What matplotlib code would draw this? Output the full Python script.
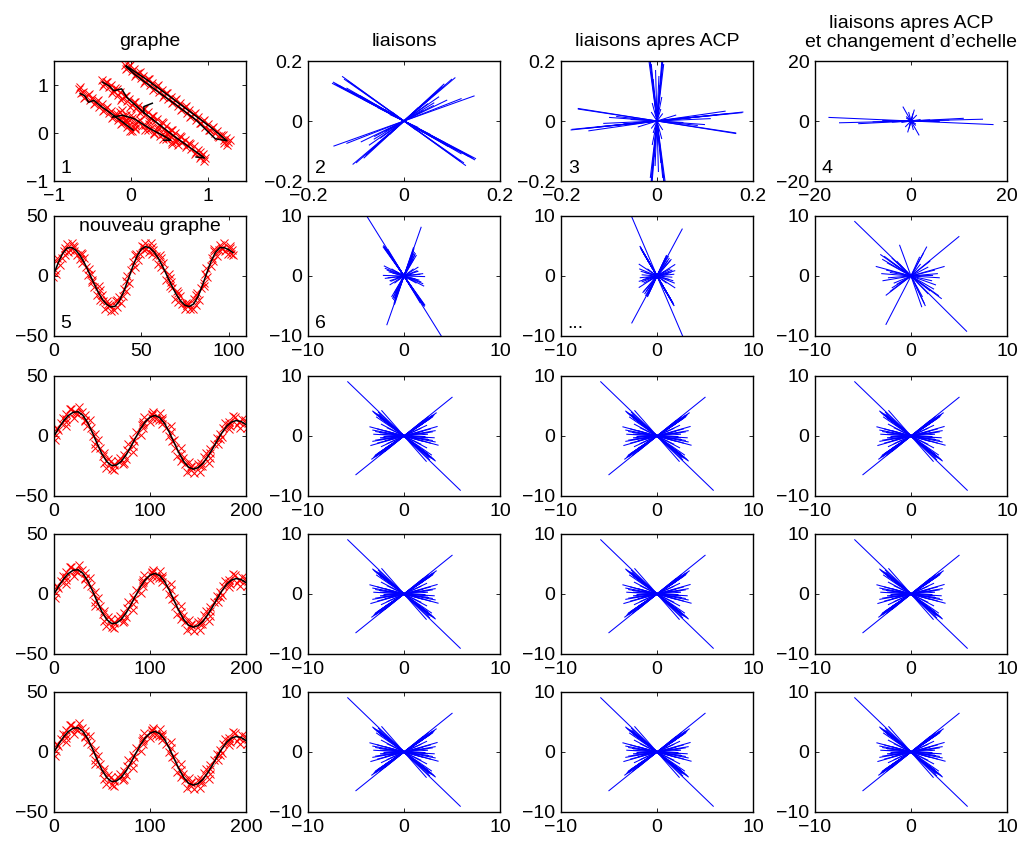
import matplotlib
matplotlib.use('Agg')
import matplotlib.pyplot as plt
import numpy as np
from matplotlib.collections import LineCollection

plt.rcParams['font.family'] = ['Liberation Sans', 'DejaVu Sans']
FS = 14
plt.rcParams['font.size'] = FS

# ---------------- text ----------------
col_titles = ['graphe', 'liaisons', 'liaisons apres ACP',
              'liaisons apres ACP\net changement d\u2019echelle']
panel_tags = {(0, 0): '1', (0, 1): '2', (0, 2): '3', (0, 3): '4',
              (1, 0): '5', (1, 1): '6', (1, 2): '...'}
inner_title = 'nouveau graphe'

# ---------------- panel 1 : graph ----------------
p1_band_a = [(-0.08, 1.42), (-0.05, 1.36), (-0.02, 1.40), (0.01, 1.30), (0.04, 1.33), (0.07, 1.22),
             (0.10, 1.26), (0.13, 1.14), (0.16, 1.19), (0.19, 1.08), (0.22, 1.12), (0.25, 1.00),
             (0.28, 1.05), (0.31, 0.93), (0.34, 0.98), (0.37, 0.86), (0.40, 0.90), (0.43, 0.79),
             (0.46, 0.83), (0.49, 0.71), (0.52, 0.76), (0.55, 0.64), (0.58, 0.69), (0.61, 0.57),
             (0.64, 0.62), (0.67, 0.49), (0.70, 0.55), (0.73, 0.42), (0.76, 0.47), (0.79, 0.35),
             (0.82, 0.40), (0.85, 0.27), (0.88, 0.33), (0.91, 0.20), (0.94, 0.26), (0.97, 0.13),
             (1.00, 0.18), (1.03, 0.06), (1.06, 0.11), (1.09, -0.01), (1.12, 0.04), (1.15, -0.08),
             (1.18, -0.04), (1.21, -0.15), (1.24, -0.10), (1.27, -0.19), (1.22, -0.20), (1.29, -0.14),
             (-0.065, 1.33), (-0.005, 1.41), (0.055, 1.19), (0.115, 1.27), (0.175, 1.04), (0.235, 1.13),
             (0.295, 0.90), (0.355, 0.99), (0.415, 0.76), (0.475, 0.84), (0.535, 0.62), (0.595, 0.70),
             (0.655, 0.48), (0.715, 0.56), (0.775, 0.34), (0.835, 0.41), (0.895, 0.20), (0.955, 0.27),
             (1.015, 0.06), (1.075, 0.13), (1.135, -0.07), (1.195, -0.04), (1.255, -0.24)]
p1_band_b = [(-0.38, 1.10), (-0.35, 1.02), (-0.32, 1.06), (-0.29, 0.95), (-0.26, 1.00), (-0.23, 0.88),
             (-0.20, 0.93), (-0.17, 0.80), (-0.14, 0.85), (-0.11, 0.73), (-0.08, 0.78), (-0.05, 0.66),
             (-0.02, 0.71), (0.01, 0.59), (0.04, 0.64), (0.07, 0.52), (0.10, 0.57), (0.13, 0.45),
             (0.16, 0.50), (0.19, 0.38), (0.22, 0.43), (0.25, 0.31), (0.28, 0.36), (0.31, 0.24),
             (0.34, 0.29), (0.37, 0.17), (0.40, 0.22), (0.43, 0.09), (0.46, 0.14), (0.49, 0.02),
             (0.52, 0.07), (0.55, -0.05), (0.58, 0.00), (0.61, -0.12), (0.64, -0.07), (0.67, -0.19),
             (0.70, -0.14), (0.73, -0.26), (0.76, -0.21), (0.79, -0.33), (0.82, -0.28), (0.85, -0.40),
             (0.88, -0.35), (0.91, -0.47), (0.94, -0.43), (0.97, -0.52), (0.90, -0.53),
             (-0.365, 0.98), (-0.305, 1.07), (-0.245, 0.84), (-0.185, 0.92), (-0.125, 0.69),
             (-0.065, 0.78), (-0.005, 0.55), (0.055, 0.64), (0.115, 0.41), (0.175, 0.50),
             (0.235, 0.26), (0.295, 0.35), (0.355, 0.12), (0.415, 0.20), (0.475, -0.02),
             (0.535, 0.06), (0.595, -0.17), (0.655, -0.09), (0.715, -0.30), (0.775, -0.23),
             (0.835, -0.44), (0.895, -0.39), (0.955, -0.58)]
p1_band_c = [(-0.68, 0.92), (-0.65, 0.83), (-0.62, 0.86), (-0.59, 0.75), (-0.56, 0.80), (-0.53, 0.69),
             (-0.50, 0.73), (-0.47, 0.62), (-0.44, 0.67), (-0.41, 0.55), (-0.38, 0.60), (-0.35, 0.48),
             (-0.32, 0.53), (-0.29, 0.41), (-0.26, 0.46), (-0.23, 0.34), (-0.20, 0.39), (-0.17, 0.27),
             (-0.14, 0.32), (-0.11, 0.20), (-0.08, 0.25), (-0.05, 0.13), (-0.02, 0.17), (0.02, 0.05),
             (0.05, 0.08),
             (-0.665, 0.95), (-0.605, 0.73), (-0.545, 0.82), (-0.485, 0.60), (-0.425, 0.68),
             (-0.365, 0.46), (-0.305, 0.54), (-0.245, 0.32), (-0.185, 0.40), (-0.125, 0.18),
             (-0.065, 0.26), (-0.005, 0.04), (0.055, 0.10)]
p1_band_d = [(-0.14, 0.44), (-0.10, 0.36), (-0.06, 0.38), (-0.02, 0.28), (0.02, 0.31), (0.06, 0.21),
             (0.10, 0.24), (0.14, 0.14), (0.18, 0.17), (0.22, 0.07), (0.26, 0.10), (0.30, 0.00),
             (0.34, 0.04), (0.38, -0.06), (0.42, -0.03), (0.46, -0.13), (0.50, -0.10), (0.54, -0.19),
             (0.58, -0.16), (0.62, -0.24),
             (-0.12, 0.47), (-0.06, 0.27), (0.00, 0.37), (0.06, 0.17), (0.12, 0.27), (0.18, 0.07),
             (0.24, 0.18), (0.30, -0.02), (0.36, 0.08), (0.42, -0.12), (0.48, -0.02), (0.54, -0.22),
             (0.60, -0.14)]
nan = float('nan')
p1_path_x = [-0.06, 0.20, 0.50, 0.80, 1.05, 1.25, 1.10, 0.85, 0.55, 0.25, 0.05, -0.06, nan,
             -0.37, -0.28, -0.22, -0.12, -0.05, 0.15, 0.35, 0.55, 0.75, 0.90, 0.96, 0.85, nan,
             0.17, 0.17, 0.28, nan,
             -0.66, -0.60, -0.55, -0.48, -0.40, -0.25, -0.10, 0.03, nan,
             -0.24, -0.11, 0.04, 0.25, 0.45, 0.52, 0.43]
p1_path_y = [1.40, 1.12, 0.77, 0.41, 0.11, -0.16, -0.12, 0.27, 0.63, 0.98, 1.22, 1.38, nan,
             1.06, 0.98, 0.88, 0.92, 0.74, 0.45, 0.20, -0.05, -0.28, -0.45, -0.52, -0.50, nan,
             0.42, 0.55, 0.62, nan,
             0.82, 0.78, 0.64, 0.68, 0.57, 0.40, 0.22, 0.06, nan,
             0.33, 0.37, 0.30, 0.09, -0.08, -0.15, -0.15]

# ---------------- row 2 : first wave ----------------
wave1_x = [0, 2.5, 5, 7.5, 10, 12.5, 15, 17.5, 20, 22.5, 25, 27.5, 30, 32.5, 35, 37.5, 40, 42.5,
           45, 47.5, 50, 52.5, 55, 57.5, 60, 62.5, 65, 67.5, 70, 72.5, 75, 77.5, 80, 82.5, 85,
           87.5, 90, 92.5, 95, 97.5, 100, 102.5]
wave1_y = [2, 11.3, 18.9, 23.3, 23.8, 21.5, 17.0, 10.6, 3.0, -5.0, -12.6, -19.0, -23.5, -25.8,
           -25.2, -20.7, -12.8, -2.8, 7.4, 16.3, 22.4, 24.5, 23.3, 19.7, 14.2, 7.2, -0.5, -8.2,
           -15.2, -20.7, -24.3, -25.5, -23.3, -17.1, -8.0, 2.4, 12.2, 19.7, 23.6, 23.6, 22.0, 19.5]
wave1_dx_a = [0.5, -0.6, 0.8, -0.3, 0.2, -0.8, 0.6, -0.5, 0.3, -0.7, 0.7, -0.2, 0.4, -0.6, 0.8,
              -0.4, 0.2, -0.8, 0.5, -0.3, 0.7, -0.5, 0.3, -0.7, 0.6, -0.2, 0.8, -0.6, 0.4, -0.3,
              0.5, -0.8, 0.2, -0.5, 0.7, -0.4, 0.6, -0.7, 0.3, -0.2, 0.8, -0.5]
wave1_dy_a = [3, 4, 2, 3, 4, 3, 2, 4, 3, 2, 4, 3, 3, 2, 4, 3, 2, 3, 4, 2, 3, 3, 4, 2, 3, 4, 2, 3,
              3, 4, 2, 3, 4, 3, 2, 4, 3, 3, 2, 4, 3, 2]
wave1_dx_b = [-0.5, 0.7, -0.2, 0.6, -0.8, 0.4, -0.3, 0.8, -0.6, 0.2, -0.4, 0.7, -0.7, 0.3, -0.5,
              0.8, -0.2, 0.6, -0.6, 0.4, -0.8, 0.2, -0.4, 0.7, -0.3, 0.5, -0.7, 0.3, -0.5, 0.8,
              -0.2, 0.6, -0.6, 0.4, -0.8, 0.2, -0.3, 0.7, -0.5, 0.6, -0.4, 0.3]
wave1_dy_b = [-3, -2, -4, -3, -2, -4, -3, -3, -2, -4, -3, -2, -4, -3, -3, -2, -4, -3, -2, -3, -4,
              -2, -3, -3, -4, -2, -3, -2, -4, -3, -3, -2, -4, -3, -2, -3, -4, -3, -2, -3, -4, -2]
wave1_dx_c = [1.2, -1.1, 1.3, -1.2, 1.1, -1.3, 1.0, -1.2, 1.3, -1.0, 1.1, -1.3, 1.2, -1.1, 1.3,
              -1.2, 1.0, -1.3, 1.2, -1.1, 1.3, -1.0, 1.1, -1.3, 1.2, -1.1, 1.3, -1.2, 1.0, -1.3,
              1.2, -1.1, 1.3, -1.2, 1.1, -1.0, 1.2, -1.1, 1.3, -1.2, 1.1, -1.3]
wave1_dy_c = [0, 1, -1, 0, 1, -1, 1, 0, -1, 0, 1, -1, 0, 1, -1, 1, 0, -1, 0, 1, -1, 0, 1, -1,
              1, 0, -1, 0, 1, -1, 0, 1, -1, 1, 0, -1, 0, 1, -1, 0, 1, -1]

# ---------------- rows 3-5 : second wave ----------------
wave2_x = [0, 5, 10, 15, 20, 25, 30, 35, 40, 45, 50, 55, 60, 65, 70, 75, 80, 85, 90, 95, 100,
           105, 110, 115, 120, 125, 130, 135, 140, 145, 150, 155, 160, 165, 170, 175, 180, 185,
           190, 195, 200]
wave2_y = [0, 6.7, 12.6, 17.1, 19.8, 20.2, 17.3, 11.2, 2.8, -6.4, -15.0, -21.4, -24.6, -24.2,
           -21.2, -15.9, -9.0, -1.4, 5.8, 11.8, 15.7, 17.1, 15.4, 10.6, 3.3, -5.3, -13.8, -21.1,
           -25.9, -27.6, -26.4, -22.9, -17.5, -10.9, -3.8, 2.8, 8.2, 11.7, 12.9, 12.0, 9.5]
wave2_dx_a = [-1.5, 2.0, -0.5, 1.5, -2.0, 1.0, -1.0, 2.5, -1.5, 0.5, -2.0, 1.5, -0.5, 2.0, -1.5,
              1.0, -2.5, 0.5, 1.5, -1.0, 2.0, -1.5, 0.5, -2.0, 1.5, -0.5, 2.5, -1.0, 1.0, -2.0,
              0.5, 1.5, -1.5, 2.0, -0.5, 1.0, -2.0, 1.5, -1.0, 0.5, -1.5]
wave2_dy_a = [3, 4, 2, 5, 3, 4, 3, 2, 4, 3, 5, 2, 4, 3, 3, 4, 2, 5, 3, 4, 2, 3, 4, 3, 5, 2, 4, 3,
              4, 2, 3, 5, 3, 4, 2, 4, 3, 5, 3, 2, 4]
wave2_dx_b = [1.5, -1.0, 2.0, -2.0, 0.5, -1.5, 2.0, -0.5, 1.0, -2.5, 1.5, -1.0, 0.5, -2.0, 1.5,
              -0.5, 2.0, -1.5, 1.0, -2.0, 0.5, 1.5, -1.0, 2.0, -0.5, 1.5, -2.0, 1.0, -1.5, 0.5,
              2.0, -1.0, 1.5, -2.5, 1.0, -0.5, 2.0, -1.5, 0.5, -1.0, 1.0]
wave2_dy_b = [-3, -2, -4, -3, -5, -2, -4, -3, -3, -4, -2, -5, -3, -4, -2, -3, -4, -3, -5, -2, -4,
              -3, -2, -4, -3, -5, -3, -2, -4, -3, -4, -2, -5, -3, -3, -4, -2, -3, -4, -5, -3]
wave2_dx_c = [2.5, -2.3, 2.6, -2.4, 2.2, -2.6, 2.4, -2.2, 2.5, -2.5, 2.3, -2.4, 2.6, -2.3, 2.4,
              -2.6, 2.2, -2.5, 2.5, -2.2, 2.4, -2.4, 2.6, -2.3, 2.3, -2.5, 2.5, -2.6, 2.2, -2.4,
              2.4, -2.3, 2.6, -2.2, 2.5, -2.5, 2.3, -2.4, 2.2, -2.6, 2.4]
wave2_dy_c = [1, 0, -1, 1, 0, -1, 0, 1, -1, 0, 1, -1, 1, 0, -1, 0, 1, -1, 1, 0, -1, 1, 0, -1, 0,
              1, -1, 0, 1, -1, 1, 0, -1, 0, 1, -1, 1, 0, -1, 0, 1]

# ---------------- link vectors (drawn from the origin) ----------------
# symmetric panels: each vector d is drawn together with -d
p2_links = [(-0.150, 0.126), (-0.148, 0.130), (-0.129, 0.149), (-0.120, 0.110), (-0.100, 0.090),
            (-0.085, 0.072), (-0.070, 0.062), (-0.055, 0.045), (-0.040, 0.038), (-0.025, 0.030),
            (-0.110, 0.098), (-0.092, 0.085), (-0.060, 0.055), (-0.030, 0.022),
            (-0.145, 0.125), (-0.140, 0.120), (-0.135, 0.118), (-0.125, 0.140), (-0.118, 0.135),
            (-0.095, 0.083), (-0.075, 0.066),
            (0.107, 0.145), (0.147, 0.084), (0.084, 0.124), (0.080, 0.115), (0.073, 0.081),
            (0.062, 0.052), (0.063, 0.061), (0.050, 0.058), (0.040, 0.035), (0.030, 0.045),
            (0.090, 0.070), (0.020, 0.030), (0.120, 0.075), (0.075, 0.105), (0.100, 0.140),
            (0.055, 0.075), (0.035, 0.050)]
p3_links = [(-0.018, 0.215), (0.013, 0.215), (0.165, -0.042), (0.180, 0.030), (0.143, 0.033),
            (0.112, 0.008), (0.090, 0.015), (0.070, 0.010), (0.055, -0.005), (0.040, 0.020),
            (0.125, 0.020), (0.100, -0.012), (0.006, 0.12), (-0.006, 0.10), (0.010, 0.08),
            (-0.010, 0.06), (0.004, 0.15), (-0.003, 0.17), (0.008, 0.04), (0.012, 0.025),
            (-0.012, 0.03), (-0.008, 0.14), (0.011, 0.18),
            (-0.016, 0.215), (0.012, 0.215), (-0.014, 0.20), (0.010, 0.20), (-0.012, 0.19),
            (0.014, 0.19), (0.165, -0.040), (0.178, 0.028), (0.150, 0.025), (0.085, -0.015),
            (0.060, 0.012)]
p4_links = [(17.2, -1.2), (15.0, 0.6), (11.0, 0.9), (8.0, 0.3), (6.0, -0.2), (4.0, 0.4),
            (-1.7, 4.8), (0.7, 3.8), (0.4, 2.5), (-0.5, 3.0), (1.2, 2.0), (1.0, -1.5), (0.3, 1.5),
            (2.0, 0.5), (-1.0, 1.0)]
p6_links = [(4.0, -10.3), (2.1, -5.0), (2.0, -4.8), (1.9, -4.6), (1.8, -4.3), (1.6, -3.9),
            (1.4, -3.4), (1.2, -3.0), (1.0, -2.5), (0.8, -2.0), (2.2, -4.9), (1.7, -4.5),
            (0.6, -1.5), (2.15, -5.1), (2.05, -4.7), (1.95, -4.5), (1.85, -4.4), (1.5, -3.6),
            (1.3, -3.2), (1.1, -2.7), (0.9, -2.2),
            (1.8, 8.2), (1.0, 4.8), (1.1, 4.0), (0.9, 3.5), (0.8, 3.0), (0.7, 2.5),
            (1.2, 3.8), (0.5, 2.0), (0.6, 1.8), (1.0, 2.8), (1.05, 4.6), (1.0, 4.2), (0.95, 3.8),
            (0.85, 3.2), (0.75, 2.8), (1.15, 3.6), (1.3, 3.5),
            (2.1, -1.7), (1.5, 0.8), (2.0, 0.4), (1.2, -0.5), (1.8, -1.0), (1.0, 1.2), (1.5, 1.5),
            (0.8, 0.3), (1.3, -1.2), (0.9, -0.8), (2.0, -1.3), (1.7, 0.3), (1.6, -0.7),
            (1.4, 0.9), (2.2, -0.1)]
p7_links = [(2.75, -10.3), (1.75, -4.9), (1.7, -4.6), (1.6, -4.4), (1.5, -4.1), (1.4, -3.8),
            (1.2, -3.3), (1.0, -2.8), (0.8, -2.2), (0.6, -1.7), (1.8, -5.0), (1.3, -3.6),
            (1.72, -4.75), (1.65, -4.5), (1.55, -4.25), (1.45, -3.95), (1.1, -3.0), (0.9, -2.5),
            (2.65, 7.9), (1.0, 3.5), (0.9, 3.0), (1.2, 3.3), (0.8, 2.6), (0.6, 2.0), (1.1, 2.5),
            (0.5, 1.5), (1.4, 2.6), (0.95, 3.2), (1.05, 3.4), (0.85, 2.8), (1.3, 3.0), (0.7, 2.3),
            (1.5, 2.8),
            (1.9, -2.0), (1.9, 1.94), (1.5, 0.6), (1.7, -0.8), (1.2, 0.3), (1.0, -1.2), (1.4, 1.2),
            (0.8, 0.8), (1.6, -0.2), (1.8, 0.3), (1.85, -1.2), (1.3, -0.6), (1.6, 1.0), (1.9, 0.9)]
# panel 8 is not symmetric: plain rays from the origin
p8_rays = [(-5.9, 9.15), (5.83, -9.27), (5.03, 6.62), (-2.63, -8.14), (-1.2, 5.2), (1.13, -5.2),
           (-3.2, 3.6), (-3.67, 1.6), (-2.97, -0.8), (-2.63, -3.24), (-2.0, -2.0), (-1.5, 2.5),
           (-2.0, 3.0), (-1.0, 1.0), (-2.5, 2.2), (-2.2, 0.6), (-1.8, -1.2), (-3.0, 2.8),
           (-2.8, 3.3), (-2.3, 2.6), (-1.7, 1.9), (-2.6, 1.0), (-2.4, -0.3), (-2.2, -2.6),
           (-1.5, -1.4), (-1.2, 2.0), (-3.1, 0.4),
           (3.5, 1.6), (2.3, 0.1), (3.2, -3.8), (1.65, 4.9), (1.5, -5.0), (2.0, -2.5), (2.5, 1.0),
           (2.0, 2.5), (1.0, 2.0), (2.2, -0.8), (2.6, -1.5), (1.2, -3.5), (0.9, 3.2), (2.8, 0.4),
           (1.4, -4.6), (1.8, -3.0), (2.9, -3.3), (2.4, -2.2), (1.3, 3.8), (1.8, 1.5), (3.0, -0.3)]
# rows 3-5, columns 2-4 (symmetric)
late_links = [(5.9, -9.1), (5.05, 6.5), (3.2, -4.05), (3.0, -3.8), (2.8, -3.7), (2.6, -3.4),
              (2.35, -4.28), (2.2, -3.0), (2.0, -2.7), (1.8, -2.4), (1.6, -2.1), (1.4, -1.9),
              (1.2, -1.6), (1.0, -1.3), (2.9, -3.2), (2.5, -3.0), (2.7, -4.0),
              (3.1, -3.9), (2.9, -3.6), (2.4, -3.1), (2.1, -2.8), (1.9, -2.5), (1.7, -2.3),
              (3.3, -4.2), (2.6, -3.6), (0.8, -1.0),
              (3.2, 3.6), (3.0, 3.2), (2.8, 3.0), (2.5, 2.7), (2.2, 2.4), (2.0, 2.1), (1.7, 1.9),
              (1.5, 1.6), (2.6, 3.3), (2.3, 2.9), (3.4, 3.9), (3.1, 3.4), (2.9, 3.3), (2.7, 2.9),
              (2.4, 2.6), (2.1, 2.3), (1.9, 2.0), (1.3, 1.4), (3.0, 3.5), (2.0, 2.6),
              (3.5, 1.6), (3.6, -1.55), (3.0, 0.7), (3.0, -0.75), (2.5, 0.3), (2.5, -0.3),
              (2.8, 1.2), (2.8, -1.2), (2.0, 0.8), (2.0, -0.9), (2.2, 0.0), (3.2, -0.3),
              (1.8, 1.3), (1.8, -1.4), (2.4, 1.8), (2.4, -2.0), (3.3, 0.9), (3.3, -1.0),
              (2.6, 0.6), (2.6, -0.6), (1.6, 0.5), (1.6, -0.5)]

# ---------------- axis settings ----------------
M = '\u2212'
ticks_small = ([-0.2, 0, 0.2], [M + '0.2', '0', '0.2'])
ticks_20 = ([-20, 0, 20], [M + '20', '0', '20'])
ticks_10 = ([-10, 0, 10], [M + '10', '0', '10'])
ticks_50 = ([-50, 0, 50], [M + '50', '0', '50'])

# ---------------- layout (pixels) ----------------
FW, FH = 1036, 841
lefts = [54, 308, 561, 815]
tops = [61, 216, 376, 534, 692]
AW, AH = 192, 120

fig = plt.figure(figsize=(FW / 100, FH / 100), dpi=100)

RED = '#ff0000'
MS, MEW = 5.5, 0.7


def make_ax(r, c):
    ax = fig.add_axes([lefts[c] / FW, 1 - (tops[r] + AH) / FH, AW / FW, AH / FH])
    for s in ax.spines.values():
        s.set_linewidth(1.0)
    ax.tick_params(direction='in', top=True, right=True, length=3, width=0.6,
                   labelsize=FS, pad=5)
    ax.tick_params(axis='y', pad=4)
    return ax


def set_ticks(ax, xt, yt, xlim, ylim):
    ax.set_xlim(xlim)
    ax.set_ylim(ylim)
    ax.set_xticks(xt[0])
    ax.set_xticklabels(xt[1])
    ax.set_yticks(yt[0])
    ax.set_yticklabels(yt[1])


def draw_links(ax, vecs, symmetric=True, lw=0.75):
    v = np.array(vecs, dtype=float)
    if symmetric:
        v = np.vstack([v, -v])
    segs = [[(0.0, 0.0), (a, b)] for a, b in v]
    ax.add_collection(LineCollection(segs, colors='#0000ff', linewidths=lw))


def draw_wave(ax, x, y, offsets):
    x = np.array(x, dtype=float)
    y = np.array(y, dtype=float)
    for dx, dy in offsets:
        ax.plot(x + np.array(dx), y + np.array(dy), 'x', color=RED, ms=MS, mew=MEW)
    ax.plot(x, y, '-', color='k', lw=1.1)


def tag(ax, s):
    ax.text(0.035, 0.03, s, transform=ax.transAxes, ha='left', va='bottom', fontsize=FS)


TPAD = 11
# row 1
ax = make_ax(0, 0)
for band in (p1_band_a, p1_band_b, p1_band_c, p1_band_d):
    b = np.array(band)
    ax.plot(b[:, 0], b[:, 1], 'x', color=RED, ms=MS, mew=MEW)
ax.plot(p1_path_x, p1_path_y, '-', color='k', lw=1.1)
set_ticks(ax, ([-1, 0, 1], [M + '1', '0', '1']), ([-1, 0, 1], [M + '1', '0', '1']),
          (-1, 1.5), (-1, 1.5))
ax.set_title(col_titles[0], fontsize=FS, pad=TPAD)
tag(ax, panel_tags[(0, 0)])

ax = make_ax(0, 1)
draw_links(ax, p2_links)
set_ticks(ax, ticks_small, ticks_small, (-0.2, 0.2), (-0.2, 0.2))
ax.set_title(col_titles[1], fontsize=FS, pad=TPAD)
tag(ax, panel_tags[(0, 1)])

ax = make_ax(0, 2)
draw_links(ax, p3_links)
set_ticks(ax, ticks_small, ticks_small, (-0.2, 0.2), (-0.2, 0.2))
ax.set_title(col_titles[2], fontsize=FS, pad=TPAD)
tag(ax, panel_tags[(0, 2)])

ax = make_ax(0, 3)
draw_links(ax, p4_links)
set_ticks(ax, ticks_20, ticks_20, (-20, 20), (-20, 20))
ax.set_title(col_titles[3], fontsize=FS, pad=TPAD - 1, linespacing=1.2)
tag(ax, panel_tags[(0, 3)])

# row 2
ax = make_ax(1, 0)
draw_wave(ax, wave1_x, wave1_y, [(wave1_dx_a, wave1_dy_a), (wave1_dx_b, wave1_dy_b),
                                 (wave1_dx_c, wave1_dy_c)])
set_ticks(ax, ([0, 50, 100], ['0', '50', '100']), ticks_50, (0, 110), (-50, 50))
ax.text(0.5, 0.985, inner_title, transform=ax.transAxes, ha='center', va='top', fontsize=FS)
tag(ax, panel_tags[(1, 0)])

ax = make_ax(1, 1)
draw_links(ax, p6_links)
set_ticks(ax, ticks_10, ticks_10, (-10, 10), (-10, 10))
tag(ax, panel_tags[(1, 1)])

ax = make_ax(1, 2)
draw_links(ax, p7_links)
set_ticks(ax, ticks_10, ticks_10, (-10, 10), (-10, 10))
tag(ax, panel_tags[(1, 2)])

ax = make_ax(1, 3)
draw_links(ax, p8_rays, symmetric=False)
set_ticks(ax, ticks_10, ticks_10, (-10, 10), (-10, 10))

# rows 3-5
for r in (2, 3, 4):
    ax = make_ax(r, 0)
    draw_wave(ax, wave2_x, wave2_y, [(wave2_dx_a, wave2_dy_a), (wave2_dx_b, wave2_dy_b),
                                     (wave2_dx_c, wave2_dy_c)])
    set_ticks(ax, ([0, 100, 200], ['0', '100', '200']), ticks_50, (0, 200), (-50, 50))
    for c in (1, 2, 3):
        ax = make_ax(r, c)
        draw_links(ax, late_links)
        set_ticks(ax, ticks_10, ticks_10, (-10, 10), (-10, 10))

fig.savefig('out.png', dpi=100)
